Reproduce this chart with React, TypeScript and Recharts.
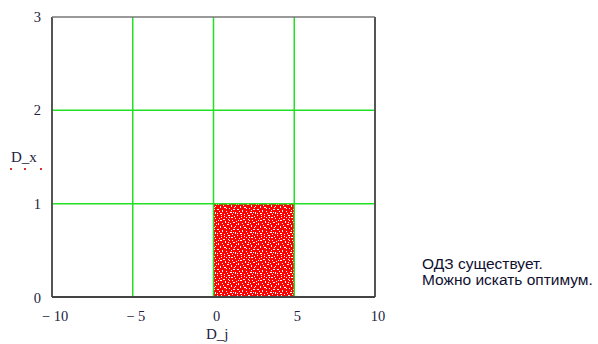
import { ScatterChart, Scatter, XAxis, YAxis, ReferenceArea, ReferenceLine } from "recharts";

// feasible region bounds (D_j on x, D_x on y)
const regionX = [0, 5];
const regionY = [0, 1];
const xTicks = [-10, -5, 0, 5, 10];
const yTicks = [0, 1, 2, 3];
const xGrid = [-5, 0, 5];
const yGrid = [1, 2];
const xDomain = [-10, 10];
const yDomain = [0, 3];
const noteLines = ["ОДЗ существует.", "Можно искать оптимум."];

// white speckles inside the red pattern tile: x, y, w, h (pure decoration)
const speckles = [
  [0, 0, 2, 1], [5, 1, 1, 2], [9, 0, 1, 1], [13, 2, 2, 1], [2, 3, 1, 1], [7, 4, 2, 1],
  [11, 5, 1, 2], [15, 6, 1, 1], [0, 6, 1, 2], [4, 7, 2, 1], [9, 8, 1, 1], [13, 9, 2, 1],
  [2, 10, 1, 2], [6, 11, 1, 1], [10, 12, 2, 1], [15, 12, 1, 2], [0, 13, 2, 1], [4, 14, 1, 1],
  [8, 15, 2, 1], [12, 14, 1, 1], [17, 15, 1, 1], [18, 3, 1, 2], [17, 9, 2, 1], [6, 17, 1, 1],
  [1, 17, 1, 1], [11, 17, 2, 1], [15, 18, 1, 1], [19, 18, 1, 1], [3, 19, 2, 1], [8, 19, 1, 1],
  [18, 0, 1, 1], [14, 16, 1, 1], [3, 5, 1, 1], [8, 2, 1, 1], [12, 0, 1, 1], [16, 4, 1, 1],
  [6, 8, 1, 1], [11, 10, 1, 1], [19, 11, 1, 1], [1, 15, 1, 1], [13, 12, 1, 1], [7, 13, 1, 1],
  [16, 1, 1, 1], [10, 3, 1, 1], [4, 16, 1, 1], [9, 17, 1, 1], [17, 13, 1, 1], [14, 7, 1, 1],
];

const corners = [
  { x: regionX[0], y: regionY[0] },
  { x: regionX[1], y: regionY[0] },
  { x: regionX[0], y: regionY[1] },
  { x: regionX[1], y: regionY[1] },
];

const tickFont = { fontFamily: "'Liberation Serif', 'Times New Roman', serif", fontSize: 14.5, fill: "#1d2340" };

function XTick({ x, y, payload }: any) {
  const v = payload.value as number;
  const label = v < 0 ? "\u2212 " + Math.abs(v) : String(v);
  return (
    <text x={x + 3} y={y + 16} textAnchor="middle" {...tickFont}>
      {label}
    </text>
  );
}

function YTick({ x, y, payload }: any) {
  const v = payload.value as number;
  return (
    <text x={x - 3} y={y + (v === 0 ? 6 : 5)} textAnchor="end" {...tickFont}>
      {v}
    </text>
  );
}

export default function App() {
  return (
    <div style={{ position: "absolute", left: 0, top: 0, width: 598, height: 344, background: "#fff" }}>
      <ScatterChart width={598} height={344} margin={{ top: 17, right: 223, left: 0, bottom: 0 }}>
        <defs>
          <pattern id="speckle" width={20} height={20} patternUnits="userSpaceOnUse">
            <rect width={20} height={20} fill="#ff0000" />
            {speckles.map(([sx, sy, sw, sh], i) => (
              <rect key={i} x={sx} y={sy} width={sw} height={sh} fill="#ffffff" />
            ))}
          </pattern>
        </defs>
        <XAxis
          type="number"
          dataKey="x"
          domain={xDomain}
          ticks={xTicks}
          axisLine={false}
          tickLine={false}
          height={47}
          tick={<XTick />}
          interval={0}
          allowDataOverflow
        />
        <YAxis
          type="number"
          dataKey="y"
          domain={yDomain}
          ticks={yTicks}
          axisLine={false}
          tickLine={false}
          width={52}
          tick={<YTick />}
          interval={0}
          allowDataOverflow
        />
        <ReferenceArea
          x1={regionX[0]}
          x2={regionX[1]}
          y1={regionY[0]}
          y2={regionY[1]}
          fill="url(#speckle)"
          fillOpacity={1}
          stroke="none"
        />
        <Scatter data={corners} isAnimationActive={false} shape={() => <g />} />
        {xGrid.map((v) => (
          <ReferenceLine key={"gx" + v} x={v} stroke="#22e022" strokeWidth={1.5} />
        ))}
        {yGrid.map((v) => (
          <ReferenceLine key={"gy" + v} y={v} stroke="#22e022" strokeWidth={1.5} />
        ))}
        <ReferenceLine x={xDomain[0]} stroke="#555" strokeWidth={2} />
        <ReferenceLine x={xDomain[1]} stroke="#555" strokeWidth={2} />
        <ReferenceLine y={yDomain[0]} stroke="#444" strokeWidth={2} />
        <ReferenceLine y={yDomain[1]} stroke="#777" strokeWidth={1.5} />
      </ScatterChart>
      <div
        style={{
          position: "absolute",
          left: 206,
          top: 326,
          fontFamily: "'Liberation Serif', 'Times New Roman', serif",
          fontSize: 15,
          lineHeight: "17px",
          color: "#1d2340",
        }}
      >
        D_j
      </div>
      <div
        style={{
          position: "absolute",
          left: 11,
          top: 149,
          fontFamily: "'Liberation Serif', 'Times New Roman', serif",
          fontSize: 15,
          lineHeight: "17px",
          color: "#1d2340",
        }}
      >
        D_x
      </div>
      {[10, 24, 40].map((l) => (
        <div
          key={l}
          style={{ position: "absolute", left: l, top: 168, width: 2, height: 2, background: "#e03030" }}
        />
      ))}
      <div
        style={{
          position: "absolute",
          left: 422,
          top: 256,
          fontFamily: "'Liberation Sans', Arial, sans-serif",
          fontSize: 15.5,
          lineHeight: "16px",
          color: "#101030",
        }}
      >
        {noteLines.map((t) => (
          <div key={t}>{t}</div>
        ))}
      </div>
    </div>
  );
}
